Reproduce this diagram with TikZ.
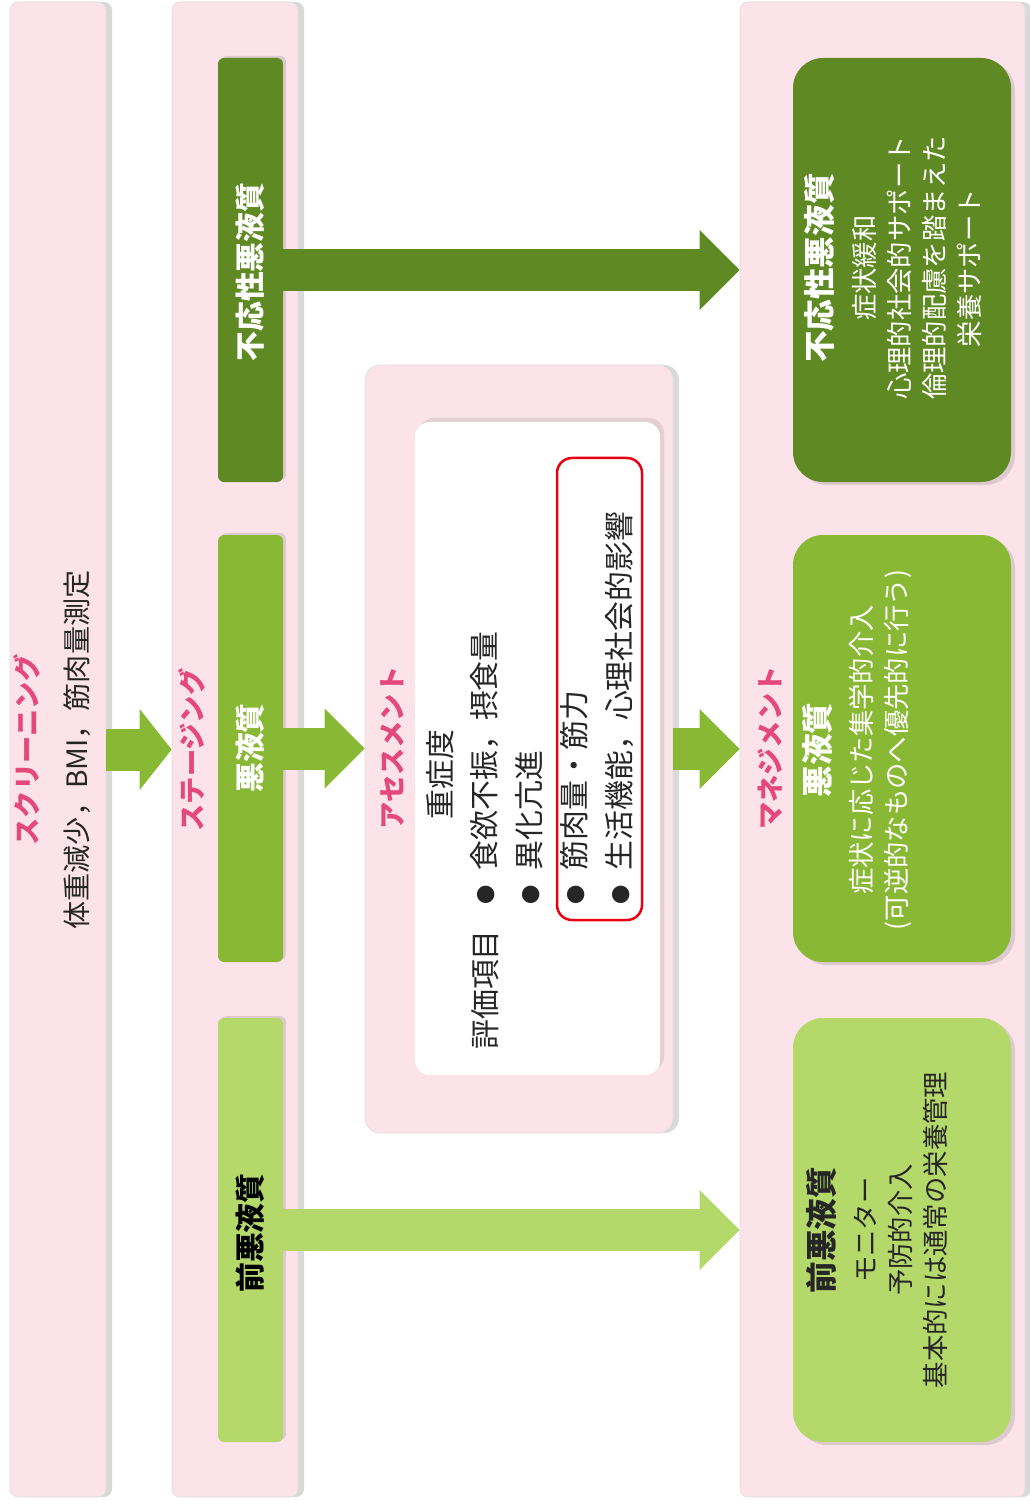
\documentclass[tikz,border=0pt]{standalone}
\usepackage{fontspec}
\setmainfont{Noto Sans CJK JP}
\usetikzlibrary{positioning,arrows.meta,shadows}

\definecolor{colpink}{RGB}{251,227,233}
\definecolor{headpink}{RGB}{228,72,124}
\definecolor{darkgreen}{RGB}{95,138,35}
\definecolor{midgreen}{RGB}{137,184,52}
\definecolor{lightgreen}{RGB}{180,216,106}
\definecolor{markred}{RGB}{230,0,18}

\newcommand\listdot{\raisebox{1.2pt}{\fontsize{11pt}{12pt}\selectfont ●}\hspace{3mm}}

\begin{document}
\begin{tikzpicture}[x=0.2mm, y=-0.2mm,
column/.style={draw=black!12, fill=colpink, rounded corners=1.6mm,
  drop shadow={shadow xshift=1.2mm, shadow yshift=0mm, opacity=.3}},
stagebox/.style={rounded corners=1.2mm, minimum width=13mm, minimum height=84.8mm,
  drop shadow={shadow xshift=.6mm, shadow yshift=.4mm, opacity=.25}},
mgtbox/.style={rounded corners=6mm, minimum width=43.6mm, minimum height=84.8mm,
  drop shadow={shadow xshift=.8mm, shadow yshift=-.6mm, opacity=.25}},
heading/.style={rotate=90, text=headpink, font=\bfseries\fontsize{15.5pt}{18pt}\selectfont},
stagetext/.style={rotate=90, font=\bfseries\fontsize{17pt}{20pt}\selectfont},
asmtext/.style={rotate=90, anchor=west, inner sep=0pt, align=left, text=black!85,
  font=\fontsize{17pt}{25.6pt}\selectfont},
mgttext/.style={rotate=90, align=center, font=\fontsize{15pt}{19.9pt}\selectfont},
block/.style={line width=8.4mm, -{Triangle[length=8mm, width=16mm, line width=0pt]}}
]
\useasboundingbox (0,0) rectangle (1029,1506);

% columns
\node[column, minimum width=19.2mm, minimum height=299mm] (scr) at (58,749.5) {};
\node[column, minimum width=25.2mm, minimum height=299mm] (stg) at (235,749.5) {};
\node[column, minimum width=57mm, minimum height=299mm] (mgt) at (882.5,749.5) {};
\node[column, rounded corners=3mm, minimum width=61.6mm, minimum height=153.6mm] (asm) at (519,749) {};
\node[fill=white, rounded corners=3mm, minimum width=49mm, minimum height=130.6mm,
  drop shadow={shadow xshift=.8mm, shadow yshift=.8mm, opacity=.2}] (sheet) at (537.5,748.5) {};

\node[heading] (scrtitle) at (27,750) {スクリーニング};
\node[rotate=90, text=black!85, font=\fontsize{16pt}{19pt}\selectfont] (scrtext) at (77,750) {体重減少，BMI，筋肉量測定};
\node[heading] (stgtitle) at (192,750) {ステージング};
\node[heading] (asmtitle) at (392,748) {アセスメント};
\node[heading] (mgttitle) at (770,748) {マネジメント};

% staging
\node[stagebox, fill=darkgreen] (refr) at (250.5,270) {};
\node[stagebox, fill=midgreen, minimum height=85.4mm] (cach) at (250.5,748.5) {};
\node[stagebox, fill=lightgreen] (pre) at (250.5,1230) {};

% arrows
\draw[block, midgreen, -{Triangle[length=6.4mm, width=16.2mm, line width=0pt]}] (scr) -- (stg);
\draw[block, darkgreen] (refr.east) -- (refr.east -| mgt.west);
\draw[block, midgreen] (cach.east) -- (cach.east -| asm.west);
\draw[block, lightgreen] (pre.east) -- (pre.east -| mgt.west);
\draw[block, midgreen] (asm.east) -- (asm.east -| mgt.west);

\node[stagetext, text=white] (refrlabel) at (250.5,272) {不応性悪液質};
\node[stagetext, text=white] (cachlabel) at (250.5,748) {悪液質};
\node[stagetext, text=black] (prelabel) at (250.5,1233) {前悪液質};

% assessment
\node[asmtext] (severity) at (440,820) {重症度};
\node[asmtext] (items) at (485,1050) {評価項目};
\node[asmtext] (list) at (552.5,905) {\listdot 食欲不振，摂食量\\\listdot 異化亢進\\\listdot 筋肉量・筋力\\\listdot 生活機能，心理社会的影響};
\node[draw=markred, line width=.5mm, rounded corners=3mm, minimum width=17mm, minimum height=92.4mm] (mark) at (599.5,689) {};

% management
\node[mgtbox, fill=darkgreen] (mrefr) at (902,270) {};
\node[mgtbox, fill=midgreen, minimum height=85.4mm] (mcach) at (902,748.5) {};
\node[mgtbox, fill=lightgreen] (mpre) at (902,1230) {};

\node[mgttext, text=white] (mrefrtext) at (893,268) {{\bfseries\fontsize{18pt}{20pt}\selectfont 不応性悪液質}\\[1.5mm]症状緩和\\心理的社会的サポート\\倫理的配慮を踏まえた\\栄養サポート};
\node[mgttext, text=white] (mcachtext) at (857,750) {{\bfseries\fontsize{18pt}{20pt}\selectfont 悪液質}\\[1.5mm]症状に応じた集学的介入\\(可逆的なものへ優先的に行う)};
\node[mgttext, text=black!85] (mpretext) at (877,1230) {{\bfseries\fontsize{18pt}{20pt}\selectfont 前悪液質}\\[1.5mm]モニター\\予防的介入\\基本的には通常の栄養管理};

\end{tikzpicture}
\end{document}
